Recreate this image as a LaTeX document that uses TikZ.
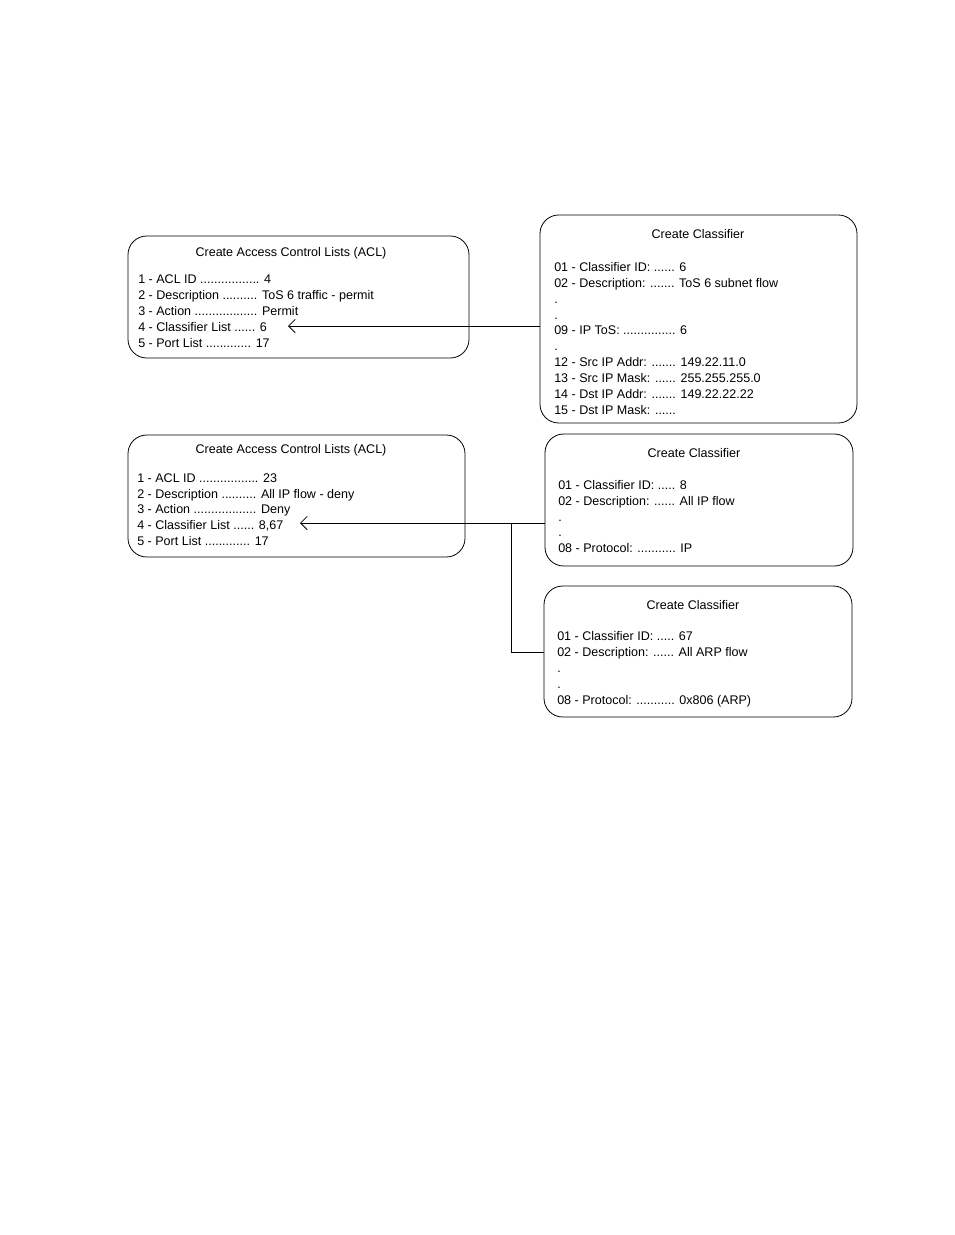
\documentclass[tikz,border=0pt]{standalone}
\usepackage{fontspec}
\setmainfont{Liberation Sans}
\usetikzlibrary{arrows.meta}
\tikzset{
  panel/.style={draw, rounded corners=14pt, line width=0.6pt},
  txt/.style={anchor=base west, inner sep=0pt, font=\fontsize{9.4}{11}\selectfont},
  ttl/.style={anchor=base, inner sep=0pt, font=\fontsize{9.4}{11}\selectfont},
  link/.style={line width=0.6pt}
}
\begin{document}
\begin{tikzpicture}[x=0.75pt, y=-0.75pt]
  \useasboundingbox (0,0) rectangle (954,1235);

  % boxes
  \draw[panel] (128,236) rectangle (469,358);
  \draw[panel] (540,215) rectangle (857,423);
  \draw[panel] (128,435) rectangle (465,557);
  \draw[panel] (545,434) rectangle (853,566);
  \draw[panel] (544,586) rectangle (852,717);

  % first ACL
  \node[ttl] (acltitle1) at (291,256) {Create Access Control Lists (ACL)};
  \node[txt] (aclA1) at (138,283) {1 - ACL ID ................. 4};
  \node[txt] (aclA2) at (138,299) {2 - Description .......... ToS 6 traffic - permit};
  \node[txt] (aclA3) at (138,315) {3 - Action .................. Permit};
  \node[txt] (aclA4) at (138,331) {4 - Classifier List ...... 6};
  \node[txt] (aclA5) at (138,347) {5 - Port List ............. 17};

  % first classifier
  \node[ttl] (clstitle1) at (698,238) {Create Classifier};
  \node[txt] (clsA1) at (554,271) {01 - Classifier ID: ...... 6};
  \node[txt] (clsA2) at (554,287) {02 - Description: ....... ToS 6 subnet flow};
  \node[txt] (clsA3) at (554,303) {.};
  \node[txt] (clsA4) at (554,319) {.};
  \node[txt] (clsA5) at (554,334) {09 - IP ToS: ............... 6};
  \node[txt] (clsA6) at (554,350) {.};
  \node[txt] (clsA7) at (554,366) {12 - Src IP Addr: ....... 149.22.11.0};
  \node[txt] (clsA8) at (554,382) {13 - Src IP Mask: ...... 255.255.255.0};
  \node[txt] (clsA9) at (554,398) {14 - Dst IP Addr: ....... 149.22.22.22};
  \node[txt] (clsA10) at (554,414) {15 - Dst IP Mask: ......};

  % second ACL
  \node[ttl] (acltitle2) at (291,453) {Create Access Control Lists (ACL)};
  \node[txt] (aclB1) at (137,482) {1 - ACL ID ................. 23};
  \node[txt] (aclB2) at (137,498) {2 - Description .......... All IP flow - deny};
  \node[txt] (aclB3) at (137,513) {3 - Action .................. Deny};
  \node[txt] (aclB4) at (137,529) {4 - Classifier List ...... 8,67};
  \node[txt] (aclB5) at (137,545) {5 - Port List ............. 17};

  % second classifier
  \node[ttl] (clstitle2) at (694,457) {Create Classifier};
  \node[txt] (clsB1) at (558,489) {01 - Classifier ID: ..... 8};
  \node[txt] (clsB2) at (558,505) {02 - Description: ...... All IP flow};
  \node[txt] (clsB3) at (558,521) {.};
  \node[txt] (clsB4) at (558,536) {.};
  \node[txt] (clsB5) at (558,552) {08 - Protocol: ........... IP};

  % third classifier
  \node[ttl] (clstitle3) at (693,609) {Create Classifier};
  \node[txt] (clsC1) at (557,640) {01 - Classifier ID: ..... 67};
  \node[txt] (clsC2) at (557,656) {02 - Description: ...... All ARP flow};
  \node[txt] (clsC3) at (557,672) {.};
  \node[txt] (clsC4) at (557,688) {.};
  \node[txt] (clsC5) at (557,704) {08 - Protocol: ........... 0x806 (ARP)};

  % connectors
  \coordinate (tipA) at (288,326);
  \coordinate (srcA) at (540,326);
  \coordinate (tipB) at (300,523);
  \coordinate (srcB) at (545,523);
  \coordinate (joint) at (511,523);
  \coordinate (srcC) at (544,652);
  \draw[link, -{Straight Barb[length=5pt,width=10pt]}] (srcA) -- (tipA);
  \draw[link, -{Straight Barb[length=5pt,width=10pt]}] (srcB) -- (tipB);
  \draw[link] (joint) |- (srcC);
\end{tikzpicture}
\end{document}
